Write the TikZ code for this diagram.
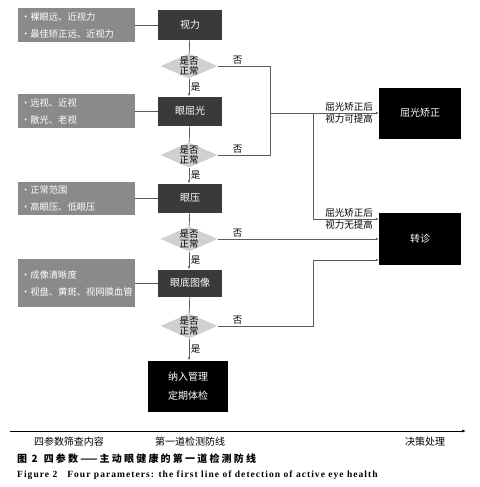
\documentclass[tikz,border=0pt]{standalone}
\usepackage{fontspec}
\setmainfont{Liberation Serif}
\newfontfamily\cjk{Noto Sans CJK SC}
\newfontfamily\cjkwide[LetterSpace=22]{Noto Sans CJK SC}
\newfontfamily\capfont[LetterSpace=11]{Liberation Serif}
\usepackage{tikz}
\usetikzlibrary{shapes.geometric,arrows.meta}

\definecolor{itemgray}{HTML}{8A8A8A}
\definecolor{stepgray}{HTML}{3A3A3A}
\definecolor{checkgray}{HTML}{D0D0D0}
\definecolor{linegray}{HTML}{5A5A5A}

\tikzset{
  itembox/.style={rectangle, fill=itemgray, text=white, text width=110pt, inner xsep=3.5pt,
    align=left, font=\cjk\fontsize{9.3}{17}\selectfont},
  stepbox/.style={rectangle, fill=stepgray, text=white, minimum width=64pt, minimum height=29pt,
    font=\cjk\fontsize{10}{11}\selectfont},
  endbox/.style={rectangle, fill=black, text=white, minimum width=82pt, minimum height=51pt,
    align=center, font=\cjk\fontsize{10}{19}\selectfont},
  check/.style={diamond, fill=checkgray, minimum width=57pt, minimum height=25pt, inner sep=0pt},
  checktext/.style={align=center, inner sep=0pt, font=\cjk\fontsize{9.5}{10}\selectfont},
  note/.style={align=center, inner sep=1pt, font=\cjk\fontsize{9.5}{12.5}\selectfont},
  link/.style={draw=linegray, line width=0.7pt},
  arr/.style={link, -{Latex[length=3pt,width=2.5pt]}},
  lbl/.style={font=\cjk\fontsize{9.5}{10}\selectfont, inner sep=1.5pt},
  axislbl/.style={font=\cjk\fontsize{10}{11}\selectfont, inner sep=1pt}
}

\begin{document}
\begin{tikzpicture}[x=1pt, y=-1pt]
\useasboundingbox (0,0) rectangle (479,487);

% left column
\node[itembox, minimum height=34pt] (i1) at (76,25) {·裸眼远、近视力\\·最佳矫正远、近视力};
\node[itembox, minimum height=34pt] (i2) at (76,111) {·远视、近视\\·散光、老视};
\node[itembox, minimum height=33pt] (i3) at (76,198) {·正常范围\\·高眼压、低眼压};
\node[itembox, minimum height=48pt] (i4) at (76,283) {·成像清晰度\\·视盘、黄斑、视网膜血管};

% middle column
\node[stepbox, minimum height=30pt] (s1) at (190,25) {视力};
\node[check] (c1) at (189,66) {};
\node[checktext] at (c1) {是否\\正常};
\node[stepbox] (s2) at (190,111) {眼屈光};
\node[check] (c2) at (189,155) {};
\node[checktext] at (c2) {是否\\正常};
\node[stepbox] (s3) at (190,198) {眼压};
\node[check] (c3) at (189,239) {};
\node[checktext] at (c3) {是否\\正常};
\node[stepbox, minimum height=27pt] (s4) at (190,283) {眼底图像};
\node[check] (c4) at (189,326) {};
\node[checktext] at (c4) {是否\\正常};
\node[endbox, minimum width=80pt] (f) at (188,386) {纳入管理\\定期体检};

% right column
\node[endbox] (r1) at (420,113) {屈光矫正};
\node[endbox, minimum height=52pt] (r2) at (420,239) {转诊};

\coordinate (j1) at (270,113);
\coordinate (j2) at (313,113);
\coordinate (j3) at (313,219);
\coordinate (j4) at (313,260);

\draw[link] (i1.east) -- (s1.west);
\draw[link] (i2.east) -- (s2.west);
\draw[link] (i3.east) -- (s3.west);
\draw[link] (i4.east) -- (s4.west);

\draw[link] (s1) -- (c1);
\draw[arr] (c1) -- node[lbl, right] {是} (c1 |- s2.north);
\draw[link] (s2) -- (c2);
\draw[arr] (c2) -- node[lbl, right] {是} (c2 |- s3.north);
\draw[link] (s3) -- (c3);
\draw[arr] (c3) -- node[lbl, right] {是} (c3 |- s4.north);
\draw[link] (s4) -- (c4);
\draw[arr] (c4) -- node[lbl, right] {是} (c4 |- f.north);

\draw[link] (c1.east) -| (j1);
\draw[link] (c2.east) -| (j1);
\draw[arr] (j1) -- (r1.west |- j1);
\draw[arr] (j2) |- (r2.west |- j3);
\draw[arr] (c3.east) -- (r2.west |- c3);
\draw[link] (c4.east) -| (j4);
\draw[arr] (j4) -- (r2.west |- j4);

\foreach \c in {c1,c2,c3,c4}
  \node[lbl, above] at ([xshift=20pt]\c.east) {否};

\node[note] (n1) at (349,113) {屈光矫正后\\视力可提高};
\node[note] (n2) at (349,219) {屈光矫正后\\视力无提高};

% time line
\coordinate (t0) at (10,431);
\coordinate (t1) at (466,431);
\draw[line width=0.6pt, -{Latex[length=4pt,width=3pt]}] (t0) -- (t1);
\node[axislbl] (a1) at (69,442) {四参数筛查内容};
\node[axislbl] (a2) at (190,442) {第一道检测防线};
\node[axislbl] (a3) at (425,442) {决策处理};

\node[anchor=west, inner sep=0pt, font=\cjkwide\bfseries\fontsize{10}{11}\selectfont] (cap1) at (17,459)
  {图 2\hspace{6pt}四参数——主动眼健康的第一道检测防线};
\node[anchor=west, inner sep=0pt, font=\capfont\bfseries\fontsize{9.5}{11}\selectfont] (cap2) at (17,475)
  {Figure 2\hspace{10pt}Four parameters: the first line of detection of active eye health};
\end{tikzpicture}
\end{document}
